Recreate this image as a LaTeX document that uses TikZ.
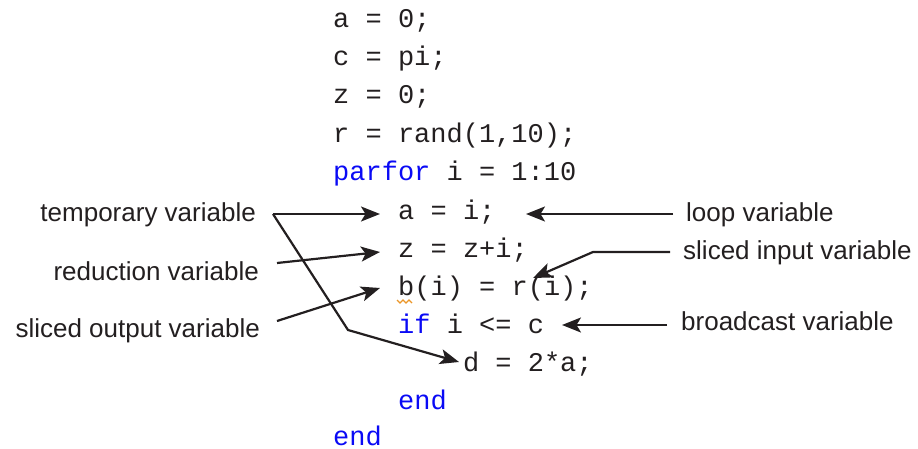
\documentclass[tikz,border=0pt]{standalone}
\usepackage{fontspec}
\setmainfont{Liberation Sans}
\newfontfamily\codefont{Liberation Mono}
\usetikzlibrary{arrows.meta,calc}
\definecolor{kw}{RGB}{10,10,245}
\definecolor{ink}{RGB}{35,31,32}
\definecolor{warn}{RGB}{235,150,40}
\tikzset{
  code/.style={anchor=base west,inner sep=0pt,font=\codefont\fontsize{27}{27}\selectfont,text=ink},
  kwd/.style={code,text=kw},
  lblL/.style={anchor=base east,inner sep=0pt,font=\fontsize{26}{26}\selectfont,text=ink},
  lblR/.style={anchor=base west,inner sep=0pt,font=\fontsize{26}{26}\selectfont,text=ink},
  arr/.style={draw=ink,line width=2.2pt,-{Stealth[length=19pt,width=15pt,inset=4.5pt]}},
}
\begin{document}
\begin{tikzpicture}[x=1pt,y=-1pt]
\useasboundingbox (0,0) rectangle (918,449);
% code
\node[code] (l1) at (333,28) {a = 0;};
\node[code] (l2) at (333,66) {c = pi;};
\node[code] (l3) at (333,104) {z = 0;};
\node[code] (l4) at (333,142.2) {r = rand(1,10);};
\node[code] (l5) at (333,180.4) {\textcolor{kw}{parfor} i = 1:10};
\node[code] (l6) at (398,219) {a = i;};
\node[code] (l7) at (398,257.2) {z = z+i;};
\node[code] (l8) at (398,295.4) {b(i) = r(i);};
\node[code] (l9) at (398,333.6) {\textcolor{kw}{if} i <= c};
\node[code] (l10) at (462.8,371.8) {d = 2*a;};
\node[kwd] (l11) at (398,409.5) {end};
\node[kwd] (l12) at (333,445.5) {end};
% warning squiggle under b
\draw[warn,line width=1.2pt] (397,300) -- (400,303) -- (403,300) -- (406,303) -- (409,300) -- (412,303);
% labels
\node[lblL] (tmp) at (256,222) {temporary variable};
\node[lblL] (red) at (259,280) {reduction variable};
\node[lblL] (sout) at (260,337) {sliced output variable};
\node[lblR] (loop) at (686,222) {loop variable};
\node[lblR] (sin) at (683,259) {sliced input variable};
\node[lblR] (bc) at (681,330) {broadcast variable};
% connector points
\coordinate (tS) at (273,214);
\coordinate (tA) at (380,214);
\coordinate (tB) at (348,330);
\coordinate (tD) at (459,362);
\coordinate (rS) at (277,263);
\coordinate (rZ) at (380,252);
\coordinate (oS) at (277,321);
\coordinate (oB) at (380,288);
\coordinate (lS) at (673,214);
\coordinate (lA) at (526,214);
\coordinate (iS) at (670,252);
\coordinate (iB) at (593,252);
\coordinate (iR) at (533,278);
\coordinate (bS) at (667,325);
\coordinate (bC) at (562,325);
% connectors
\draw[arr] (tS) -- (tA);
\draw[arr] (tS) -- (tB) -- (tD);
\draw[arr] (rS) -- (rZ);
\draw[arr] (oS) -- (oB);
\draw[arr] (lS) -- (lA);
\draw[arr] (iS) -- (iB) -- (iR);
\draw[arr] (bS) -- (bC);
\end{tikzpicture}
\end{document}
